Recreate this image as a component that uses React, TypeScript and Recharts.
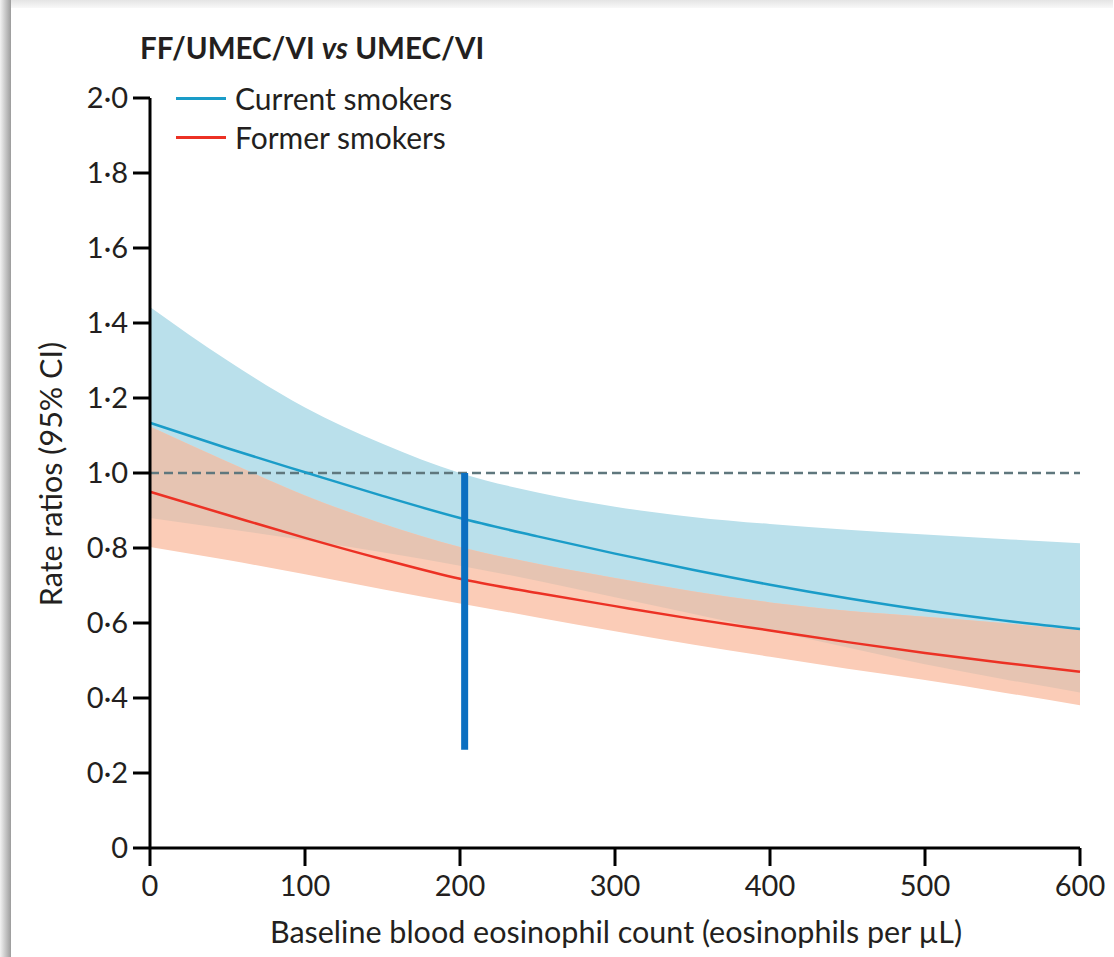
import { ComposedChart, Area, Line, XAxis, YAxis, ReferenceLine } from 'recharts';

// Eosinophil counts (x) and the rate ratios
const eosinophils = [0, 50, 100, 150, 200, 250, 300, 350, 400, 450, 500, 550, 600];
const currentRR = [1.134, 1.066, 1.002, 0.939, 0.88, 0.831, 0.785, 0.742, 0.702, 0.666, 0.634, 0.607, 0.584];
const currentUpper = [1.443, 1.3, 1.175, 1.078, 1.0, 0.948, 0.91, 0.883, 0.864, 0.849, 0.836, 0.824, 0.813];
const currentLower = [0.88, 0.851, 0.821, 0.789, 0.753, 0.713, 0.669, 0.625, 0.58, 0.535, 0.49, 0.451, 0.415];
const formerRR = [0.95, 0.888, 0.827, 0.77, 0.718, 0.68, 0.645, 0.611, 0.58, 0.549, 0.52, 0.494, 0.47];
const formerUpper = [1.124, 1.03, 0.94, 0.865, 0.803, 0.758, 0.72, 0.685, 0.655, 0.633, 0.617, 0.6, 0.581];
const formerLower = [0.803, 0.768, 0.73, 0.69, 0.652, 0.615, 0.578, 0.543, 0.51, 0.478, 0.448, 0.415, 0.381];

const xTicks = [0, 100, 200, 300, 400, 500, 600];
const yTicks = [0, 0.2, 0.4, 0.6, 0.8, 1.0, 1.2, 1.4, 1.6, 1.8, 2.0];

// thick vertical marker at ~200 eosinophils
const markerX = 203;
const markerTop = 1.0;
const markerBottom = 0.262;

const chartData = eosinophils.map((x, i) => ({
    x,
    current: currentRR[i],
    former: formerRR[i],
    currentBand: [currentLower[i], currentUpper[i]],
    formerBand: [formerLower[i], formerUpper[i]],
    // where the two CIs overlap (brownish area)
    overlapBand: [currentLower[i], formerUpper[i]],
}));

const FONT = 'Lato, "Open Sans", sans-serif';
const TEXT = '#231f20';

const fmtY = (v: number) => (v === 0 ? '0' : v.toFixed(1).replace('.', '·'));

export default function App() {
    return (
        <div style={{ position: 'absolute', left: 0, top: 0, width: 1114, height: 957, background: '#fff', fontFamily: FONT, color: TEXT, overflow: 'hidden' }}>
            {/* shadow frame */}
            <div style={{ position: 'absolute', left: 0, top: 0, width: 1113, height: 8, background: 'linear-gradient(to bottom, #e4e4e4, #f8f8f8)' }} />
            <div style={{ position: 'absolute', left: 0, top: 0, width: 11, height: 957, background: 'linear-gradient(to right, #f2f2f2, #9c9c9c)' }} />

            <ComposedChart
                width={1114}
                height={957}
                data={chartData}
                margin={{ top: 98, right: 34, bottom: 49, left: 70 }}
                style={{ position: 'absolute', left: 0, top: 0 }}
            >
                <XAxis
                    dataKey="x"
                    type="number"
                    domain={[0, 600]}
                    ticks={xTicks}
                    height={60}
                    tickSize={18}
                    tickMargin={9}
                    axisLine={{ stroke: '#000', strokeWidth: 3 }}
                    tickLine={{ stroke: '#000', strokeWidth: 3 }}
                    tick={{ fill: TEXT, fontSize: 29, fontFamily: FONT }}
                    interval={0}
                />
                <YAxis
                    type="number"
                    domain={[0, 2]}
                    ticks={yTicks}
                    width={80}
                    tickSize={17}
                    tickMargin={5}
                    tickFormatter={fmtY}
                    axisLine={{ stroke: '#000', strokeWidth: 3 }}
                    tickLine={{ stroke: '#000', strokeWidth: 3 }}
                    tick={{ fill: TEXT, fontSize: 29, fontFamily: FONT }}
                    interval={0}
                />
                <Area type="monotone" dataKey="currentBand" fill="#bae0eb" fillOpacity={1} stroke="none" isAnimationActive={false} activeDot={false} />
                <Area type="monotone" dataKey="formerBand" fill="#fbccb7" fillOpacity={1} stroke="none" isAnimationActive={false} activeDot={false} />
                <Area type="monotone" dataKey="overlapBand" fill="#e6c4b2" fillOpacity={1} stroke="none" isAnimationActive={false} activeDot={false} />
                <ReferenceLine y={1} stroke="#5f777d" strokeWidth={2.5} strokeDasharray="9 5" />
                <Line type="monotone" dataKey="current" stroke="#1a9cc8" strokeWidth={2.5} dot={false} activeDot={false} isAnimationActive={false} />
                <Line type="monotone" dataKey="former" stroke="#ec3124" strokeWidth={2.5} dot={false} activeDot={false} isAnimationActive={false} />
                <ReferenceLine
                    segment={[{ x: markerX, y: markerTop }, { x: markerX, y: markerBottom }]}
                    stroke="#0b6fc1"
                    strokeWidth={7}
                />
            </ComposedChart>

            {/* title */}
            <div style={{ position: 'absolute', left: 140, top: 33, fontSize: 29.5, fontWeight: 700, lineHeight: 1, whiteSpace: 'nowrap' }}>
                FF/UMEC/VI <i>vs</i> UMEC/VI
            </div>

            {/* legend */}
            {[
                { label: 'Current smokers', color: '#1a9cc8', y: 98 },
                { label: 'Former smokers', color: '#ec3124', y: 137 },
            ].map((item) => (
                <div key={item.label} style={{ position: 'absolute', left: 176, top: item.y - 17, height: 34, display: 'flex', alignItems: 'center', whiteSpace: 'nowrap' }}>
                    <div style={{ width: 50, height: 3, background: item.color, marginRight: 9 }} />
                    <span style={{ fontSize: 30, lineHeight: 1 }}>{item.label}</span>
                </div>
            ))}

            {/* axis titles */}
            <div style={{ position: 'absolute', left: 50, top: 474, transform: 'translate(-50%, -50%) rotate(-90deg)', fontSize: 30.5, lineHeight: 1, whiteSpace: 'nowrap' }}>
                Rate ratios (95% CI)
            </div>
            <div style={{ position: 'absolute', left: 616, top: 916, transform: 'translateX(-50%)', fontSize: 30.5, lineHeight: 1, whiteSpace: 'nowrap' }}>
                Baseline blood eosinophil count (eosinophils per µL)
            </div>
        </div>
    );
}
